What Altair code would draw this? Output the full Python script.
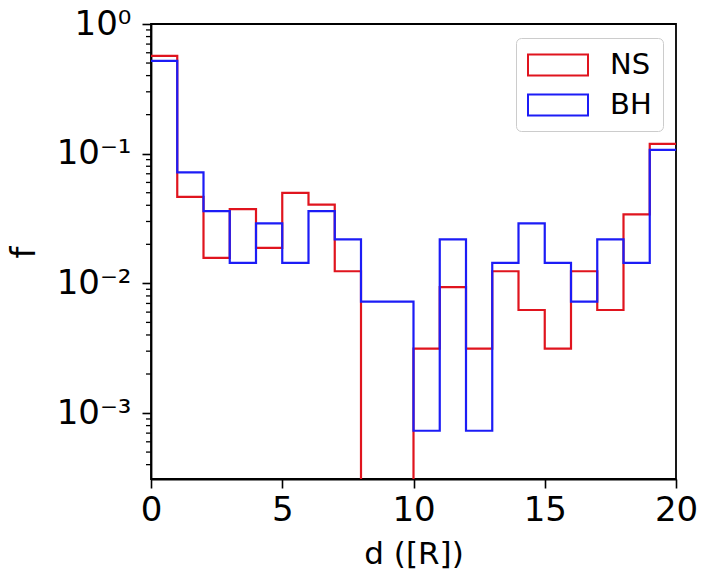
import altair as alt
import pandas as pd

# Histogram bin edges (d in [R]) and fractions per bin
bin_edges = list(range(0, 21))
ns_values = [0.567, 0.0464, 0.0157, 0.0373, 0.0188, 0.0498, 0.0405, 0.0124, 0.0, 0.0,
             0.00314, 0.00937, 0.00314, 0.0124, 0.00623, 0.00314, 0.0124, 0.00623, 0.034, 0.119]
bh_values = [0.519, 0.0718, 0.036, 0.0144, 0.029, 0.0144, 0.036, 0.0218, 0.00723, 0.00723,
             0.00073, 0.0218, 0.00073, 0.0144, 0.029, 0.0144, 0.00723, 0.0218, 0.0144, 0.107]
series_names = ["NS", "BH"]
series_colors = ["#e0141e", "#1c1cf6"]
y_major_ticks = [0.001, 0.01, 0.1, 1.0]
y_minor_ticks = [m * 10.0 ** e for e in (-4, -3, -2, -1) for m in range(2, 10)
                 if 3.1e-4 <= m * 10.0 ** e < 1]

Y_MIN = 3.1e-4
FLOOR = 1e-7  # empty bins drawn below the visible range (clipped)


def step_frame(name, vals):
    rows = []
    for i, edge in enumerate(bin_edges):
        v = vals[min(i, len(vals) - 1)]
        rows.append({"d": edge, "f": v if v > 0 else FLOOR, "series": name})
    return pd.DataFrame(rows)


ns_df = step_frame("NS", ns_values)
bh_df = step_frame("BH", bh_values)
minor_df = pd.DataFrame({"f": y_minor_ticks})

FONT = "DejaVu Sans"

x_enc = alt.X(
    "d:Q",
    scale=alt.Scale(domain=[0, 20], nice=False, zero=False),
    axis=alt.Axis(
        values=[0, 5, 10, 15, 20], title="d ([R])", grid=False, labelFlush=False,
        tickSize=9, labelPadding=5, labelFontSize=34, titleFontSize=31,
        titleBaseline="alphabetic", titleY=84, titleFontWeight="normal",
    ),
)

label_expr = ("datum.value >= 0.5 ? '10⁰' : datum.value >= 0.05 ? '10⁻¹' : "
              "datum.value >= 0.005 ? '10⁻²' : '10⁻³'")

y_enc = alt.Y(
    "f:Q",
    scale=alt.Scale(type="log", domain=[Y_MIN, 1.0], nice=False),
    axis=alt.Axis(
        values=y_major_ticks, labelExpr=label_expr, title="f", grid=False,
        tickSize=9, labelPadding=11, labelFontSize=34, titleFontSize=34,
        titleAngle=-90, titleX=-127, titleY=228, titleAlign="center",
        titleBaseline="middle", titleFontWeight="normal",
    ),
)

color_enc = alt.Color(
    "series:N",
    scale=alt.Scale(domain=series_names, range=series_colors),
    legend=alt.Legend(
        title=None, orient="none", legendX=365, legendY=14,
        symbolType="M-2,-0.7H2V0.7H-2Z", symbolSize=900, symbolOffset=15,
        symbolStrokeWidth=2, symbolFillColor="white",
        labelFontSize=29, labelFont=FONT, labelOffset=36, rowPadding=9,
        padding=11, fillColor="white", strokeColor="#cccccc", cornerRadius=5,
    ),
)

ns_line = alt.Chart(ns_df).mark_line(interpolate="step-after", strokeWidth=2.2, clip=True).encode(
    x=x_enc, y=y_enc, color=color_enc
)
bh_line = alt.Chart(bh_df).mark_line(interpolate="step-after", strokeWidth=2.2, clip=True).encode(
    x=x_enc, y=y_enc, color=color_enc
)
minor = alt.Chart(minor_df).mark_rule(color="black", strokeWidth=1.3).encode(
    y=alt.Y("f:Q"), x=alt.value(-5), x2=alt.value(0)
)

chart = alt.layer(minor, ns_line, bh_line).properties(
    width=525, height=455,
    autosize=alt.AutoSizeParams(type="none"),
    padding={"left": 151, "top": 24, "right": 26, "bottom": 92},
    background="white",
).configure_view(
    stroke="black", strokeWidth=1.8
).configure_axis(
    domainColor="black", domainWidth=1.8, tickColor="black", tickWidth=1.6,
    labelColor="black", titleColor="black", labelFont=FONT, titleFont=FONT,
).configure_legend(
    labelColor="black"
)

chart.save("out.html", embed_options={"renderer": "svg", "actions": False})
